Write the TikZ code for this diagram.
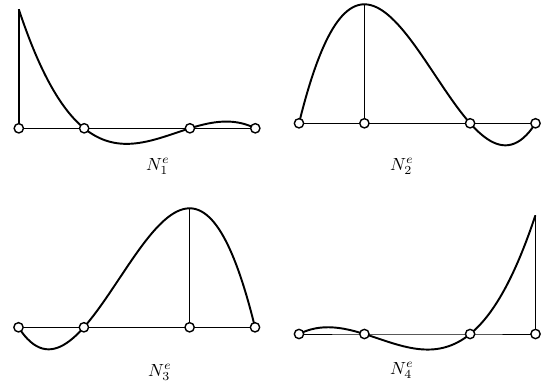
\documentclass[tikz,border=0pt]{standalone}
\usepackage{tikz}
\tikzset{
  shape fn/.style={line width=1.1pt},
  axis line/.style={line width=0.45pt},
  stem/.style={line width=0.45pt},
  knot/.style={circle,draw,fill=white,line width=0.8pt,inner sep=0pt,minimum size=5.3pt}
}
\begin{document}
\begin{tikzpicture}[x=0.02cm,y=0.02cm]
\useasboundingbox (0,0) rectangle (541,387);
\def\ka{0.27639}\def\kb{0.72361}
\coordinate (p11) at (18.8,258.7);\coordinate (p12) at (84.2,258.7);
\coordinate (p13) at (189.9,258.7);\coordinate (p14) at (255.3,258.7);
\coordinate (p21) at (299,263.7);\coordinate (p22) at (364.4,263.7);
\coordinate (p23) at (470.1,263.7);\coordinate (p24) at (535.5,263.7);
\coordinate (p31) at (18.5,59.7);\coordinate (p32) at (83.9,59.7);
\coordinate (p33) at (189.6,59.7);\coordinate (p34) at (255,59.7);
\coordinate (p41) at (299,53);\coordinate (p42) at (364.4,53);
\coordinate (p43) at (470.1,53);\coordinate (p44) at (535.5,53);
\coordinate (t1) at (18.8,377.7);
\coordinate (t2) at (364.4,382.7);
\coordinate (t3) at (189.6,178.7);
\coordinate (t4) at (535.5,172);
\draw[axis line](p11)--(p12)--(p13)--(p14);
\draw[axis line](p21)--(p22)--(p23)--(p24);
\draw[axis line](p31)--(p32)--(p33)--(p34);
\draw[axis line](p41)--(p42)--(p43)--(p44);
\draw[stem,line width=0.8pt](p11)--(t1);
\draw[stem](p22)--(t2);
\draw[stem](p33)--(t3);
\draw[stem,line width=0.8pt](p44)--(t4);
\draw[shape fn]plot[domain=0:1,samples=80,smooth]({18.8+236.5*\x},{258.7-5*119*(\x-\ka)*(\x-\kb)*(\x-1)});
\draw[shape fn]plot[domain=0:1,samples=80,smooth]({299+236.5*\x},{263.7+11.1803*119*\x*(\x-\kb)*(\x-1)});
\draw[shape fn]plot[domain=0:1,samples=80,smooth]({18.5+236.5*\x},{59.7-11.1803*119*\x*(\x-\ka)*(\x-1)});
\draw[shape fn]plot[domain=0:1,samples=80,smooth]({299+236.5*\x},{53+5*119*\x*(\x-\ka)*(\x-\kb)});
\foreach \i in {1,...,4}
  \foreach \j in {1,...,4}
    \node[knot](k\i\j) at (p\i\j){};
\node[anchor=base](l1) at (158,217){$N^e_1$};
\node[anchor=base](l2) at (402,217){$N^e_2$};
\node[anchor=base](l3) at (160,11){$N^e_3$};
\node[anchor=base](l4) at (402,13){$N^e_4$};
\end{tikzpicture}
\end{document}
